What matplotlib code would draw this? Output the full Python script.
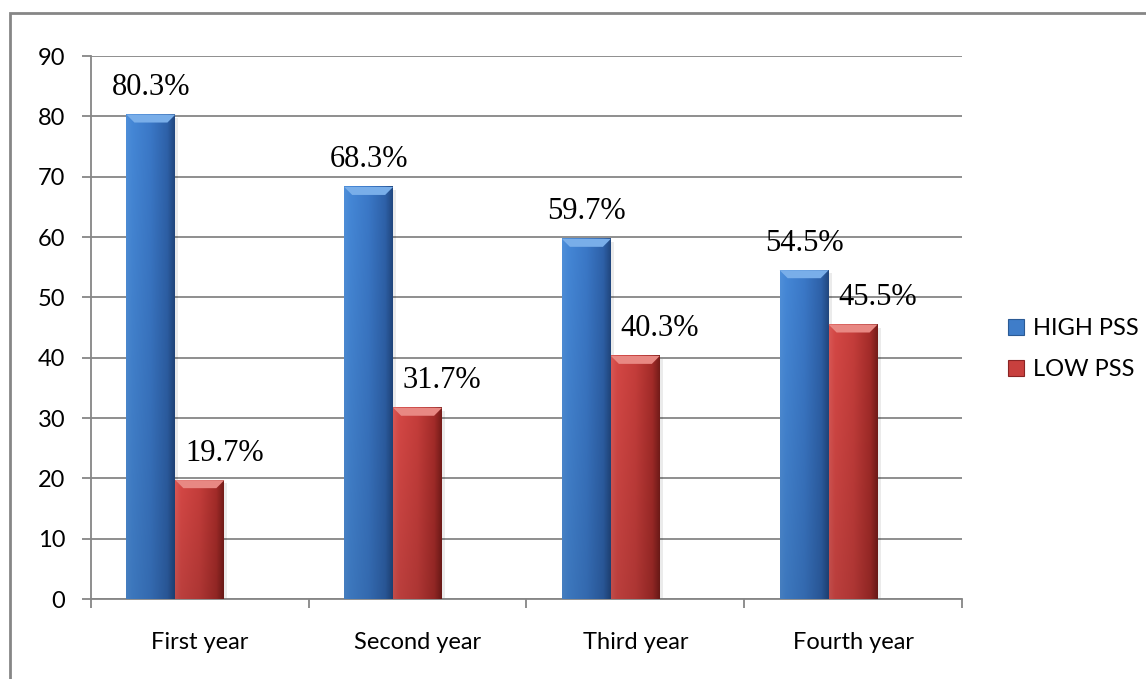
import numpy as np
import matplotlib
matplotlib.use("Agg")
import matplotlib.pyplot as plt
from matplotlib.patches import Rectangle, Polygon
from matplotlib.lines import Line2D

# data
categories = ["First year", "Second year", "Third year", "Fourth year"]
high_pss = [80.3, 68.3, 59.7, 54.5]
low_pss = [19.7, 31.7, 40.3, 45.5]
series_names = ["HIGH PSS", "LOW PSS"]
y_ticks = list(range(0, 100, 10))

grid_col = "#868686"
tick_font = "Lato"
label_font = "Liberation Serif"

# colour stops across bar width (left -> right)
blue_stops = [(0.0, (0.31, 0.56, 0.85)), (0.12, (0.27, 0.53, 0.84)), (0.5, (0.23, 0.47, 0.78)),
              (0.85, (0.18, 0.38, 0.66)), (1.0, (0.13, 0.28, 0.50))]
red_stops = [(0.0, (0.85, 0.34, 0.33)), (0.12, (0.83, 0.28, 0.27)), (0.5, (0.77, 0.24, 0.23)),
             (0.85, (0.64, 0.17, 0.16)), (1.0, (0.46, 0.11, 0.10))]
blue_top = "#79aee9"
red_top = "#e88883"


def gradient(stops, n=64, m=64):
    pos = np.linspace(0, 1, n)
    xs = [s[0] for s in stops]
    row = np.stack([np.interp(pos, xs, [s[1][c] for s in stops]) for c in range(3)], axis=-1)
    shade = np.linspace(1.0, 0.88, m)[:, None, None]
    return np.clip(row[None, :, :] * shade, 0, 1)


fig = plt.figure(figsize=(11.46, 6.79), dpi=100)
ax = fig.add_axes([0.0794, 0.1178, 0.76, 0.7997])

x = np.arange(len(categories))
w = 0.2248
px_x = 218.0   # pixels per category
px_y = 6.03    # pixels per unit

for vals, off, stops, topc in [(high_pss, -w, blue_stops, blue_top), (low_pss, 0.0, red_stops, red_top)]:
    bars = ax.bar(x + off, vals, width=w, color="none", edgecolor="none", zorder=3)
    img = gradient(stops)
    for b in bars:
        bx, bw, bh = b.get_x(), b.get_width(), b.get_height()
        # soft shadow
        ax.add_patch(Rectangle((bx + 3 / px_x, -1), bw, bh + 1 - 3 / px_y, color="black",
                               alpha=0.08, lw=0, zorder=2))
        ax.imshow(img, extent=[bx, bx + bw, 0, bh], aspect="auto", zorder=3,
                  interpolation="bilinear")
        d = 8 / px_x
        e = 8 / px_y
        ax.add_patch(Polygon([(bx, bh), (bx + bw, bh), (bx + bw - d, bh - e), (bx + d, bh - e)],
                             closed=True, color=topc, lw=0, zorder=4))

# data labels
for i in range(len(categories)):
    ax.annotate(f"{high_pss[i]}%", (x[i] - w, high_pss[i]), xytext=(0, 14),
                textcoords="offset points", ha="center", va="baseline",
                fontsize=22, family=label_font, zorder=5)
    ax.annotate(f"{low_pss[i]}%", (x[i] + w / 2, low_pss[i]), xytext=(0, 14),
                textcoords="offset points", ha="center", va="baseline",
                fontsize=22, family=label_font, zorder=5)

ax.set_xlim(-0.5, len(categories) - 0.5)
ax.set_ylim(0, 90)
ax.set_yticks(y_ticks)
ax.set_yticklabels([str(t) for t in y_ticks], family=tick_font, fontsize=17)
ax.yaxis.grid(True, color=grid_col, lw=1.3, zorder=1)
ax.set_axisbelow(True)

ax.set_xticks(np.arange(len(categories) + 1) - 0.5)
ax.set_xticklabels([])
ax.set_xticks(x, minor=True)
ax.set_xticklabels(categories, minor=True, family=tick_font, fontsize=17)
ax.tick_params(axis="x", which="minor", length=0, pad=24)
ax.tick_params(axis="x", which="major", length=6.5, width=1.3, color=grid_col, direction="out")
ax.tick_params(axis="y", length=6.5, width=1.3, color=grid_col, pad=12)

for s in ["top", "right"]:
    ax.spines[s].set_visible(False)
for s in ["left", "bottom"]:
    ax.spines[s].set_color(grid_col)
    ax.spines[s].set_linewidth(1.3)

handles = [Line2D([], [], marker="s", ls="none", ms=11, mfc="#3f7dc9", mec="#2b5a94", mew=0.8),
           Line2D([], [], marker="s", ls="none", ms=11, mfc="#c8403e", mec="#8a2424", mew=0.8)]
fig.legend(handles, series_names, loc="center left", bbox_to_anchor=(0.878, 0.486),
           frameon=False, prop={"family": tick_font, "size": 17}, handlelength=0.8,
           handletextpad=0.35, labelspacing=0.85, borderpad=0, borderaxespad=0)

# chart border (right/bottom edges fall outside the picture)
fig.add_artist(Rectangle((10 / 1146, -0.1), 1.1, 1.1 - 13 / 679, transform=fig.transFigure,
                         fill=False, edgecolor=grid_col, lw=2))

fig.savefig("out.png", dpi=100)
